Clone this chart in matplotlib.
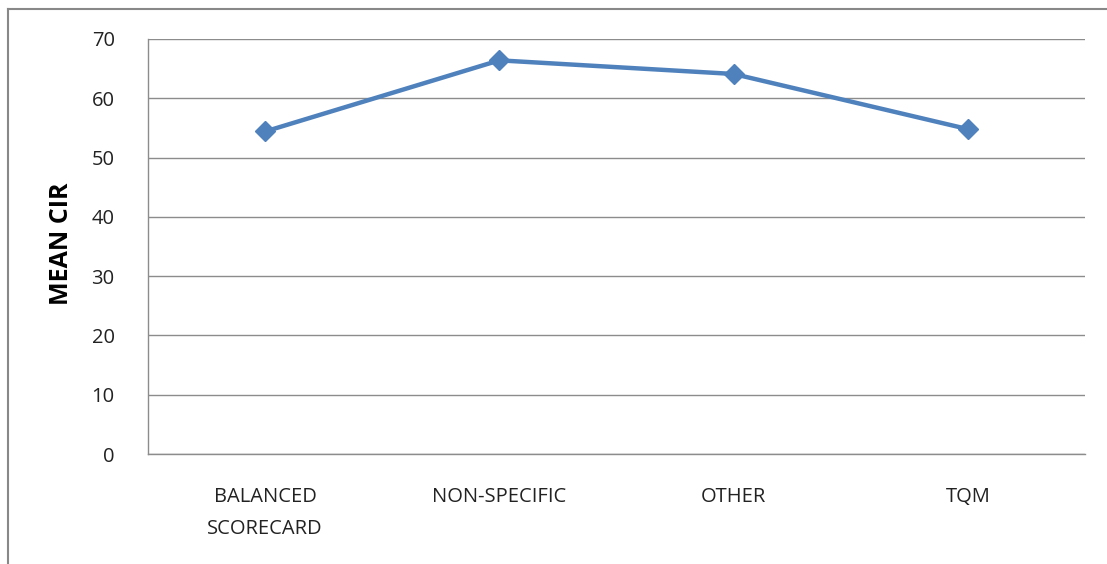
import matplotlib
matplotlib.use("Agg")
import matplotlib.pyplot as plt
from matplotlib.lines import Line2D

categories = ["BALANCED\nSCORECARD", "NON-SPECIFIC", "OTHER", "TQM"]
mean_cir = [54.4, 66.4, 64.1, 54.8]
yticks = [0, 10, 20, 30, 40, 50, 60, 70]

plt.rcParams['font.family'] = ['Open Sans', 'DejaVu Sans']

fig = plt.figure(figsize=(11.07, 5.64), dpi=100)
ax = fig.add_axes([148/1107, 110/564, 937/1107, 415/564])

ax.plot(range(len(categories)), mean_cir, color="#4F81BD", linewidth=3.2,
        marker="D", markersize=10.5, zorder=3)

ax.set_xlim(-0.5, len(categories) - 0.5)
ax.set_ylim(0, 70)
ax.set_yticks(yticks)
ax.set_xticks(range(len(categories)))
ax.set_xticklabels(categories, fontsize=14.5, color="#222222", linespacing=1.75)
ax.tick_params(axis="y", labelsize=14.5, colors="#222222", length=0, pad=24)
ax.tick_params(axis="x", length=0, pad=24)

ax.grid(True, axis="y", color="#8c8c8c", linewidth=1)
ax.set_axisbelow(True)
for side in ["top", "right"]:
    ax.spines[side].set_visible(False)
for side in ["left", "bottom"]:
    ax.spines[side].set_color("#8c8c8c")
    ax.spines[side].set_linewidth(1)

fig.text(62/1107, 1 - 244/564, "MEAN CIR", rotation=90, fontsize=18,
         fontweight="bold", ha="center", va="center")

# outer chart border (left and top edges visible)
fig.add_artist(Line2D([7.5/1107, 7.5/1107], [0, 1 - 8.5/564], color="#888888", linewidth=1.5))
fig.add_artist(Line2D([7.5/1107, 1], [1 - 8.5/564, 1 - 8.5/564], color="#888888", linewidth=1.5))

fig.savefig("out.png", dpi=100)
